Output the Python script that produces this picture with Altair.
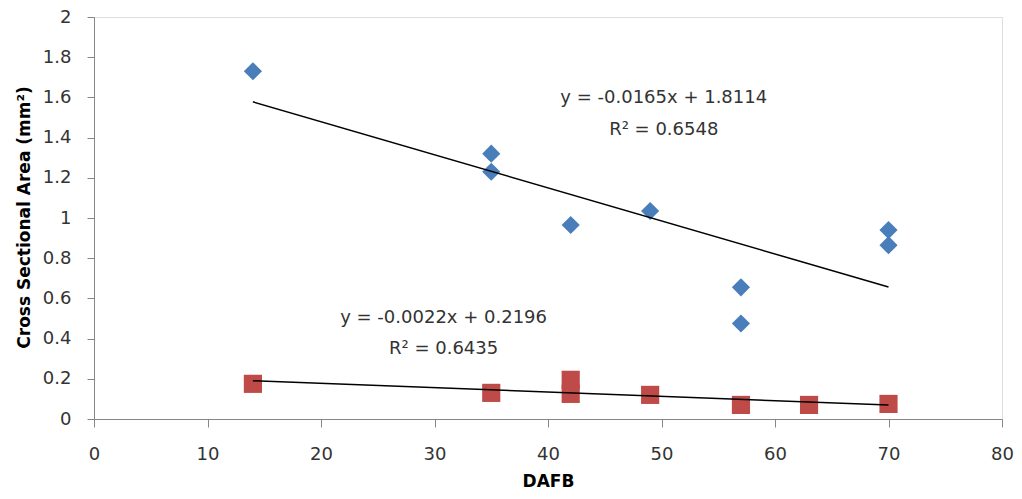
import altair as alt
import pandas as pd

# Series 1 (blue diamonds)
blue_x = [14, 35, 35, 42, 49, 57, 57, 70, 70]
blue_y = [1.73, 1.32, 1.23, 0.965, 1.035, 0.655, 0.475, 0.94, 0.865]
# Series 2 (red squares)
red_x = [14, 35, 42, 42, 49, 57, 63, 70]
red_y = [0.175, 0.13, 0.195, 0.125, 0.12, 0.07, 0.07, 0.075]

# Trendline annotations (anchored in data units)
ann_text = ["y = -0.0165x + 1.8114", "R\u00b2 = 0.6548",
            "y = -0.0022x + 0.2196", "R\u00b2 = 0.6435"]
ann_x = [50.2, 50.2, 30.8, 30.8]
ann_y = [1.574, 1.414, 0.477, 0.323]

x_ticks = list(range(0, 81, 10))
y_ticks = [0, 0.2, 0.4, 0.6, 0.8, 1, 1.2, 1.4, 1.6, 1.8, 2]

blue = pd.DataFrame({"x": blue_x, "y": blue_y})
red = pd.DataFrame({"x": red_x, "y": red_y})
ann = pd.DataFrame({"t": ann_text, "x": ann_x, "y": ann_y})

FONT = "DejaVu Sans"
AX = "#868686"
TXT = "#333333"

xs = alt.Scale(domain=[0, 80], nice=False)
ys = alt.Scale(domain=[0, 2], nice=False)

x_axis = alt.Axis(values=x_ticks, title="DAFB", grid=False, domainColor=AX, tickColor=AX,
                  tickSize=8, labelPadding=18, labelFontSize=18, labelColor=TXT,
                  labelFont=FONT, titleFont=FONT, titleFontSize=17, titleFontWeight="bold",
                  titleColor="black", titleBaseline="alphabetic", titleY=67,
                  labelFlush=False)
y_axis = alt.Axis(values=y_ticks, format="~g", title="Cross Sectional Area (mm\u00b2)",
                  grid=False, domainColor=AX, tickColor=AX, tickSize=7, labelPadding=16,
                  labelFontSize=18, labelColor=TXT, labelFont=FONT, titleFont=FONT,
                  titleFontSize=17, titleFontWeight="bold", titleColor="black",
                  titleBaseline="middle", titleX=-70, titleY=200, labelFlush=False)

base_enc = dict(x=alt.X("x:Q", scale=xs, axis=x_axis), y=alt.Y("y:Q", scale=ys, axis=y_axis))

blue_pts = alt.Chart(blue).mark_point(shape="diamond", filled=True, opacity=1,
                                      color="#4A7EBB", size=330).encode(**base_enc)
red_pts = alt.Chart(red).mark_point(shape="square", filled=True, opacity=1,
                                    color="#BE4B48", size=330).encode(**base_enc)

blue_fit = alt.Chart(blue).transform_regression("x", "y").mark_line(
    color="black", strokeWidth=1.5).encode(x=alt.X("x:Q", scale=xs), y=alt.Y("y:Q", scale=ys))
red_fit = alt.Chart(red).transform_regression("x", "y").mark_line(
    color="black", strokeWidth=1.5).encode(x=alt.X("x:Q", scale=xs), y=alt.Y("y:Q", scale=ys))

labels = alt.Chart(ann).mark_text(font=FONT, fontSize=18, color=TXT, align="center",
                                  baseline="alphabetic").encode(
    x=alt.X("x:Q", scale=xs), y=alt.Y("y:Q", scale=ys), text="t:N")

chart = alt.layer(blue_pts, red_pts, blue_fit, red_fit, labels).properties(
    width=908, height=402,
    autosize=alt.AutoSizeParams(type="none"),
    padding={"left": 86, "top": 9, "right": 12, "bottom": 72},
).configure_view(stroke=None).configure(background="white")

chart.save("out.html", embed_options={"renderer": "svg", "actions": False})
